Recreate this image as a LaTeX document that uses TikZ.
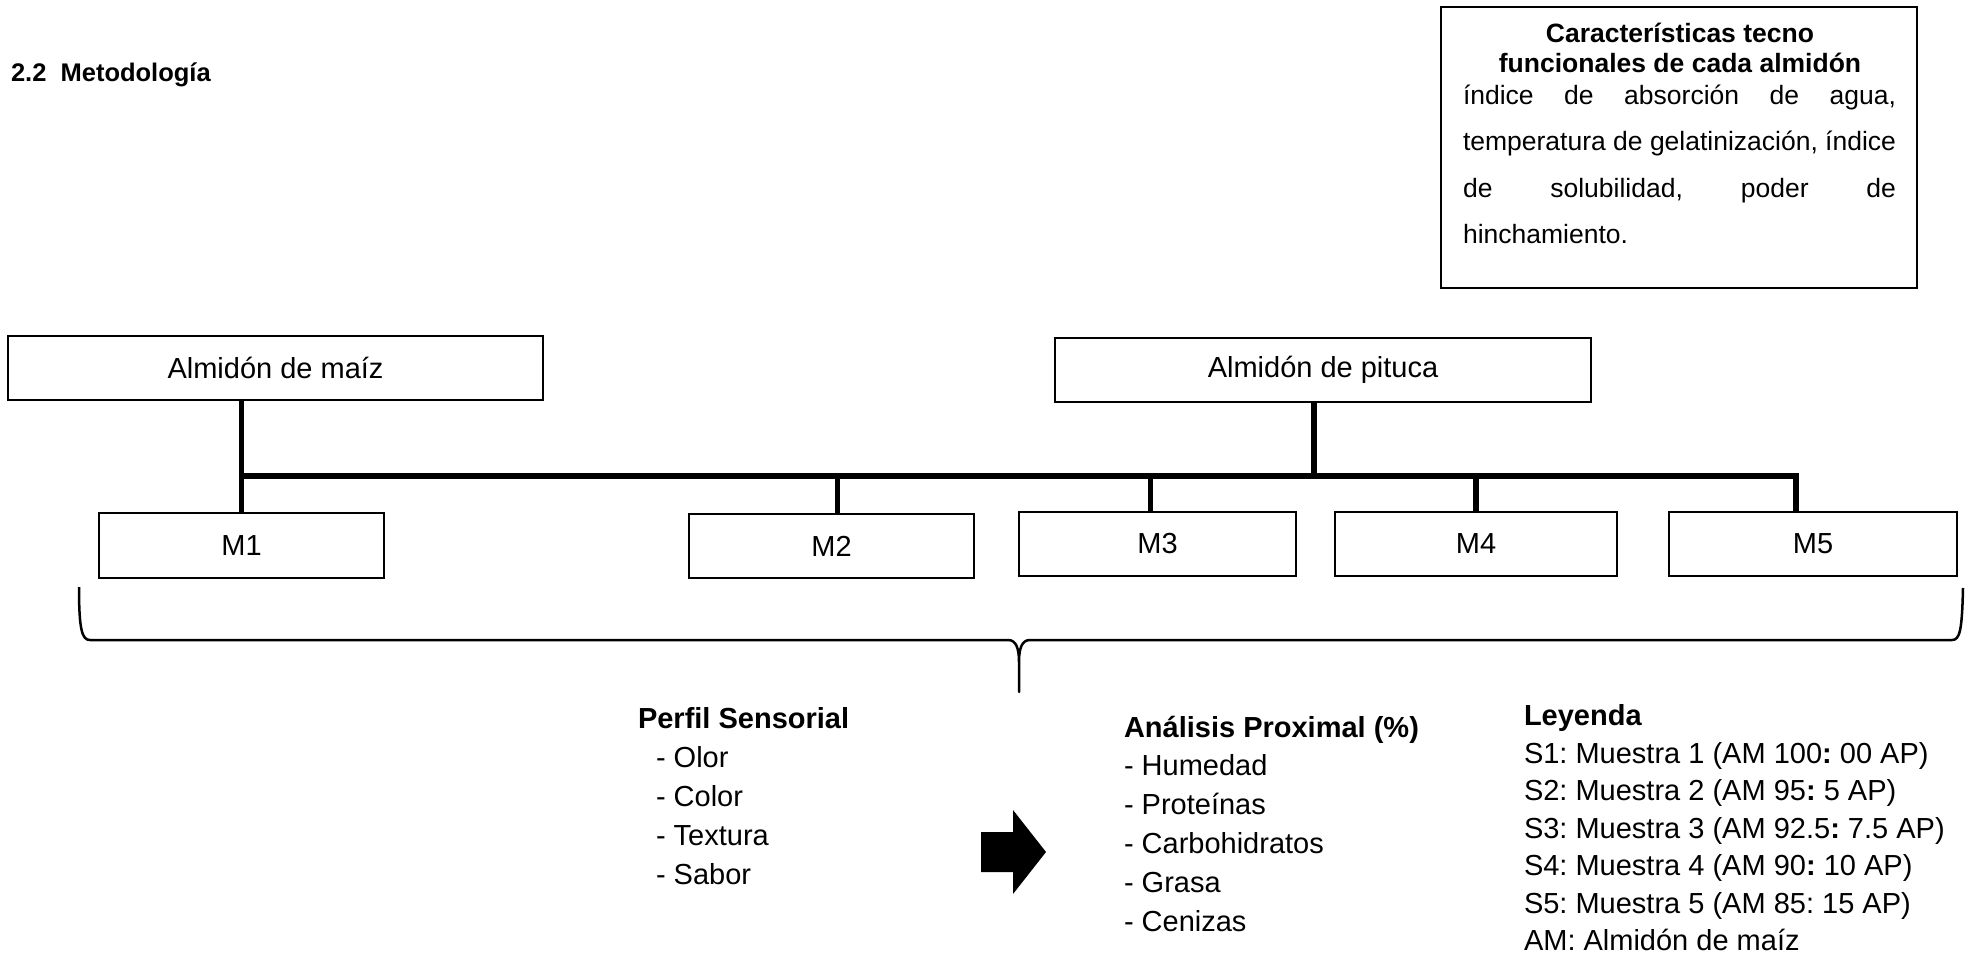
\documentclass[tikz,border=0pt]{standalone}
\usepackage{fontspec}
\setmainfont{Liberation Sans}
\begin{document}
\frenchspacing
\begin{tikzpicture}[x=1pt,y=-1pt,
  every node/.style={inner sep=0pt, outer sep=0pt},
  stagebox/.style={draw, line width=2.5pt, font=\fontsize{29}{35}\selectfont, minimum height=64pt},
  link/.style={line width=5.5pt, line join=miter},
  brace/.style={line width=2.5pt, line join=round},
  txt/.style={anchor=base west, font=\fontsize{29}{35}\selectfont},
  hdr/.style={anchor=base west, font=\fontsize{29}{35}\selectfont\bfseries},
  small/.style={anchor=base west, font=\fontsize{26.5}{30}\selectfont},
  smallhdr/.style={anchor=base, font=\fontsize{26.5}{30}\selectfont\bfseries}]
\useasboundingbox (0,0) rectangle (1968,963);

% section heading
\node[anchor=base west, font=\fontsize{25.5}{30}\selectfont\bfseries] (heading) at (11,82) {2.2\ \ Metodología};

% box with the techno-functional properties
\node[draw, line width=2.5pt, minimum width=476pt, minimum height=281pt] (caract) at (1679,147.5) {};
\node[smallhdr] (ct1) at (1680,43) {Características tecno};
\node[smallhdr] (ct2) at (1680,73) {funcionales de cada almidón};
\node[small] (cb1) at (1463,105) {\makebox[433pt][s]{índice de absorción de agua,}};
\node[small] (cb2) at (1463,151) {\makebox[433pt][s]{temperatura de gelatinización, índice}};
\node[small] (cb3) at (1463,197) {\makebox[433pt][s]{de solubilidad, poder de}};
\node[small] (cb4) at (1463,243) {hinchamiento.};

% starches
\node[stagebox, minimum width=535pt] (maiz) at (275.5,368) {Almidón de maíz};
\node[stagebox, minimum width=536pt] (pituca) at (1323,370) {Almidón de pituca};

% samples
\node[stagebox, minimum width=285pt, minimum height=65pt] (M1) at (241.5,545.5) {M1};
\node[stagebox, minimum width=285pt] (M2) at (831.5,546) {M2};
\node[stagebox, minimum width=277pt] (M3) at (1157.5,544) {M3};
\node[stagebox, minimum width=282pt] (M4) at (1476,544) {M4};
\node[stagebox, minimum width=288pt] (M5) at (1813,544) {M5};

% distribution bus
\coordinate (bus) at (0,476);
\coordinate (tp) at ([xshift=-9pt]pituca.south);
\coordinate (t2) at ([xshift=6pt]M2.north);
\coordinate (t3) at ([xshift=-7pt]M3.north);
\coordinate (t5) at ([xshift=-17pt]M5.north);
\draw[link] (maiz.south -| M1.north) -- (M1.north);
\draw[link] (M1.north |- bus) -- (t5 |- bus) -- (t5);
\draw[link] (tp) -- (tp |- bus);
\draw[link] (t2 |- bus) -- (t2);
\draw[link] (t3 |- bus) -- (t3);
\draw[link] (M4.north |- bus) -- (M4.north);

% curly brace grouping all samples
\coordinate (tip) at (1019,692);
\draw[brace] (79,587) .. controls (79,630) and (82,640) .. (90,640)
  -- (1008,640) .. controls (1016,640) and (1019,648) .. (1019,662) -- (tip)
  -- (1019,662) .. controls (1019,648) and (1022,640) .. (1030,640)
  -- (1952,640) .. controls (1960,640) and (1962,630) .. (1963,588);

% sensory profile
\node[hdr] (perfil) at (638,728) {Perfil Sensorial};
\node[txt] (p1) at (656,767) {- Olor};
\node[txt] (p2) at (656,806) {- Color};
\node[txt] (p3) at (656,845) {- Textura};
\node[txt] (p4) at (656,884) {- Sabor};

% block arrow
\fill (981,832) -- (1013,832) -- (1013,810) -- (1046,852) -- (1013,894) -- (1013,872) -- (981,872) -- cycle;

% proximal analysis
\node[hdr] (prox) at (1124,737) {Análisis Proximal (\%)};
\node[txt] (a1) at (1124,775) {- Humedad};
\node[txt] (a2) at (1124,814) {- Proteínas};
\node[txt] (a3) at (1124,853) {- Carbohidratos};
\node[txt] (a4) at (1124,892) {- Grasa};
\node[txt] (a5) at (1124,931) {- Cenizas};

% legend
\node[hdr] (ley) at (1524,725) {Leyenda};
\node[txt] (l1) at (1524,763) {S1: Muestra 1 (AM 100\textbf{:} 00 AP)};
\node[txt] (l2) at (1524,800) {S2: Muestra 2 (AM 95\textbf{:} 5 AP)};
\node[txt] (l3) at (1524,838) {S3: Muestra 3 (AM 92.5\textbf{:} 7.5 AP)};
\node[txt] (l4) at (1524,875) {S4: Muestra 4 (AM 90\textbf{:} 10 AP)};
\node[txt] (l5) at (1524,913) {S5: Muestra 5 (AM 85: 15 AP)};
\node[txt] (l6) at (1524,950) {AM: Almidón de maíz};
\end{tikzpicture}
\end{document}
